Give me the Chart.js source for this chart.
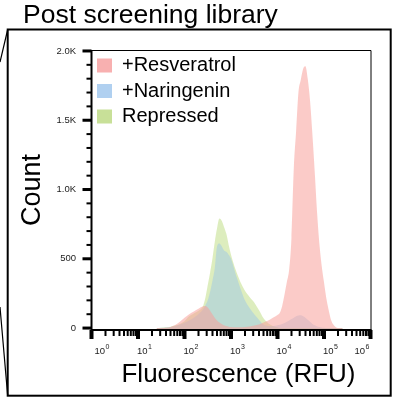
<!DOCTYPE html>
<html>
<head>
<meta charset="utf-8">
<script src="https://cdn.jsdelivr.net/npm/chart.js@4.4.1/dist/chart.umd.min.js"></script>
<style>
  html, body { margin: 0; padding: 0; background: #fff; }
  #chart { display: block; }
</style>
</head>
<body>
<canvas id="chart" width="393" height="402"></canvas>
<script>
// histogram bins, as log10 of fluorescence (RFU)
const binExponents = [
  1.4, 1.5, 1.6, 1.7, 1.8, 1.9, 2.0, 2.1, 2.2, 2.3, 2.4,
  2.45, 2.5, 2.55, 2.6, 2.65, 2.7, 2.75, 2.8, 2.85, 2.9, 2.95, 3.0,
  3.1, 3.2, 3.3, 3.4, 3.5, 3.6, 3.7, 3.8, 3.9, 4.0,
  4.05, 4.1, 4.15, 4.2, 4.25, 4.3, 4.35, 4.4, 4.45, 4.5, 4.55, 4.6, 4.65,
  4.7, 4.75, 4.8, 4.85, 4.9, 4.95, 5.0, 5.05, 5.1, 5.15, 5.2, 5.25, 5.3, 5.4
];
const resveratrolCounts = [
  0, 0, 3, 8, 22, 45, 75, 100, 120, 140, 158,
  160, 148, 125, 100, 75, 55, 40, 30, 20, 14, 10, 8,
  6, 6, 8, 12, 18, 25, 40, 55, 75, 95,
  110, 160, 240, 330, 420, 650, 1150, 1420, 1700, 1790, 1870, 1890, 1800,
  1640, 1400, 1130, 840, 610, 450, 330, 215, 130, 60, 25, 8, 0, 0
];
const naringeninCounts = [
  0, 2, 4, 8, 15, 25, 38, 55, 75, 100, 135,
  165, 200, 260, 340, 430, 590, 610, 590, 560, 550, 530, 500,
  390, 290, 200, 145, 100, 60, 25, 15, 15, 20,
  24, 30, 36, 45, 55, 65, 75, 85, 90, 92, 85, 75, 60,
  45, 30, 20, 12, 8, 4, 2, 0, 0, 0, 0, 0, 0, 0
];
const repressedCounts = [
  0, 2, 5, 10, 18, 30, 50, 85, 105, 125, 160,
  220, 310, 400, 500, 620, 720, 790, 775, 730, 680, 600, 530,
  420, 335, 270, 225, 185, 130, 70, 35, 15, 5,
  0, 0, 0, 0, 0, 0, 0, 0, 0, 0, 0, 0, 0,
  0, 0, 0, 0, 0, 0, 0, 0, 0, 0, 0, 0, 0, 0
];
const seriesLabels = ['+Resveratrol', '+Naringenin', 'Repressed'];
const fillColors = ['rgba(248,160,155,0.55)', 'rgba(150,195,235,0.45)', 'rgba(180,214,110,0.45)'];
const legendColors = ['#f8b0b0', '#b0d0f0', '#c8e098'];

const xTickPowers = [0, 1, 2, 3, 4, 5, 6];
const xMinorSteps = [2, 3, 4, 5, 6, 7, 8, 9];
const yTickValues = [0, 100, 200, 300, 400, 500, 600, 700, 800, 900, 1000,
  1100, 1200, 1300, 1400, 1500, 1600, 1700, 1800, 1900, 2000];
const yTickLabels = { 0: '0', 500: '500', 1000: '1.0K', 1500: '1.5K', 2000: '2.0K' };

const FONT = '"Liberation Sans", Arial, Helvetica, sans-serif';
Chart.defaults.font.family = FONT;

const toPoints = counts => binExponents.map((e, i) => ({ x: 10 ** e, y: counts[i] }));

const figureDecor = {
  id: 'figureDecor',
  afterLayout(chart) {
    // vertical legend in the chart area: pin it to the top of the plot box
    const lg = chart.legend;
    if (lg) {
      lg.top = chart.chartArea.top;
      lg.bottom = chart.chartArea.bottom;
    }
  },
  beforeDraw(chart) {
    const { ctx } = chart;
    ctx.save();
    ctx.fillStyle = '#fff';
    ctx.fillRect(0, 0, chart.width, chart.height);
    // panel frame + zoom connector lines
    ctx.strokeStyle = '#000';
    ctx.lineWidth = 2;
    ctx.strokeRect(7.7, 29.5, 383, 366.2);
    ctx.lineWidth = 1.2;
    ctx.beginPath();
    ctx.moveTo(7.7, 29.5); ctx.lineTo(0, 62);
    ctx.moveTo(7.7, 395.7); ctx.lineTo(0, 307);
    ctx.stroke();
    ctx.fillStyle = '#000';
    ctx.font = '26.5px ' + FONT;
    ctx.textBaseline = 'alphabetic';
    ctx.fillText('Post screening library', 23, 23);
    ctx.restore();
  },
  afterDraw(chart) {
    const { ctx, chartArea: a, scales: { x, y } } = chart;
    ctx.save();
    ctx.strokeStyle = '#000';
    ctx.fillStyle = '#000';

    // thin top/right border
    ctx.lineWidth = 1;
    ctx.beginPath();
    ctx.moveTo(a.left, a.top + 0.5);
    ctx.lineTo(a.right + 0.5, a.top + 0.5);
    ctx.lineTo(a.right + 0.5, a.bottom);
    ctx.stroke();
    // heavier axes
    ctx.lineWidth = 2;
    ctx.beginPath();
    ctx.moveTo(a.left, a.top);
    ctx.lineTo(a.left, a.bottom);
    ctx.lineTo(a.right + 1, a.bottom);
    ctx.stroke();

    // y ticks
    yTickValues.forEach(v => {
      const py = y.getPixelForValue(v);
      if (v % 500 === 0) ctx.fillRect(a.left - 9, py - 1.5, 9, 3);
      else ctx.fillRect(a.left - 5, py - 1, 5, 2);
    });

    // x ticks (log decades + minors)
    xTickPowers.forEach(k => {
      const px = x.getPixelForValue(10 ** k);
      ctx.fillRect(px - 2, a.bottom, 4, 9);
      if (k < xTickPowers[xTickPowers.length - 1]) {
        xMinorSteps.forEach(m => {
          const mx = x.getPixelForValue(m * 10 ** k);
          ctx.fillRect(mx - 1, a.bottom, 2, 6);
        });
      }
    });

    // x tick labels with superscript exponents
    xTickPowers.forEach(k => {
      const px = x.getPixelForValue(10 ** k);
      ctx.font = '9.5px ' + FONT;
      const wBase = ctx.measureText('10').width;
      ctx.font = '7px ' + FONT;
      const wSup = ctx.measureText(String(k)).width;
      const total = wBase + wSup + 0.5;
      const left = Math.min(Math.max(px - 1, a.left + 3), a.right - total - 1);
      ctx.fillStyle = '#222';
      ctx.textAlign = 'left';
      ctx.textBaseline = 'alphabetic';
      ctx.font = '9.5px ' + FONT;
      ctx.fillText('10', left, 354);
      ctx.font = '7px ' + FONT;
      ctx.fillText(String(k), left + wBase + 0.5, 349);
    });

    // x axis title
    ctx.fillStyle = '#000';
    ctx.font = '26px ' + FONT;
    ctx.textAlign = 'center';
    ctx.fillText('Fluorescence (RFU)', 238.5, 381.7);
    ctx.restore();
  }
};

new Chart(document.getElementById('chart'), {
  type: 'line',
  data: {
    datasets: [
      { label: seriesLabels[0], data: toPoints(resveratrolCounts), backgroundColor: fillColors[0] },
      { label: seriesLabels[1], data: toPoints(naringeninCounts), backgroundColor: fillColors[1] },
      { label: seriesLabels[2], data: toPoints(repressedCounts), backgroundColor: fillColors[2] }
    ]
  },
  options: {
    responsive: false,
    animation: false,
    devicePixelRatio: 1,
    layout: { autoPadding: false, padding: { left: 0, right: 22.5, top: 50, bottom: 0 } },
    elements: {
      line: { fill: 'start', borderWidth: 0, borderColor: 'rgba(0,0,0,0)', tension: 0.3, cubicInterpolationMode: 'monotone' },
      point: { radius: 0, hoverRadius: 0 }
    },
    scales: {
      x: {
        type: 'logarithmic',
        min: 1,
        max: 1e6,
        grid: { display: false, drawTicks: false },
        border: { display: false },
        ticks: { display: false },
        afterFit: s => { s.height = 72; }
      },
      y: {
        type: 'linear',
        min: -14,
        max: 2007,
        grid: { display: false, drawTicks: false },
        border: { display: false },
        afterBuildTicks: s => { s.ticks = yTickValues.map(v => ({ value: v })); },
        ticks: {
          autoSkip: false,
          padding: 15.5,
          color: '#222',
          font: { size: 9.5 },
          callback: v => yTickLabels[v] ?? ''
        },
        title: {
          display: true,
          text: 'Count',
          color: '#000',
          font: { size: 27, lineHeight: 1 },
          padding: { top: 19.5, bottom: 0 }
        },
        afterFit: s => { s.width = 91.5; }
      }
    },
    plugins: {
      tooltip: { enabled: false },
      legend: {
        position: 'chartArea',
        align: 'start',
        labels: {
          boxWidth: 15,
          boxHeight: 14,
          padding: 5.5,
          color: '#000',
          font: { size: 20 },
          generateLabels: chart => chart.data.datasets.map((ds, i) => ({
            text: ds.label,
            fillStyle: legendColors[i],
            strokeStyle: legendColors[i],
            lineWidth: 0,
            hidden: false,
            datasetIndex: i
          }))
        }
      }
    }
  },
  plugins: [figureDecor]
});
</script>
</body>
</html>
